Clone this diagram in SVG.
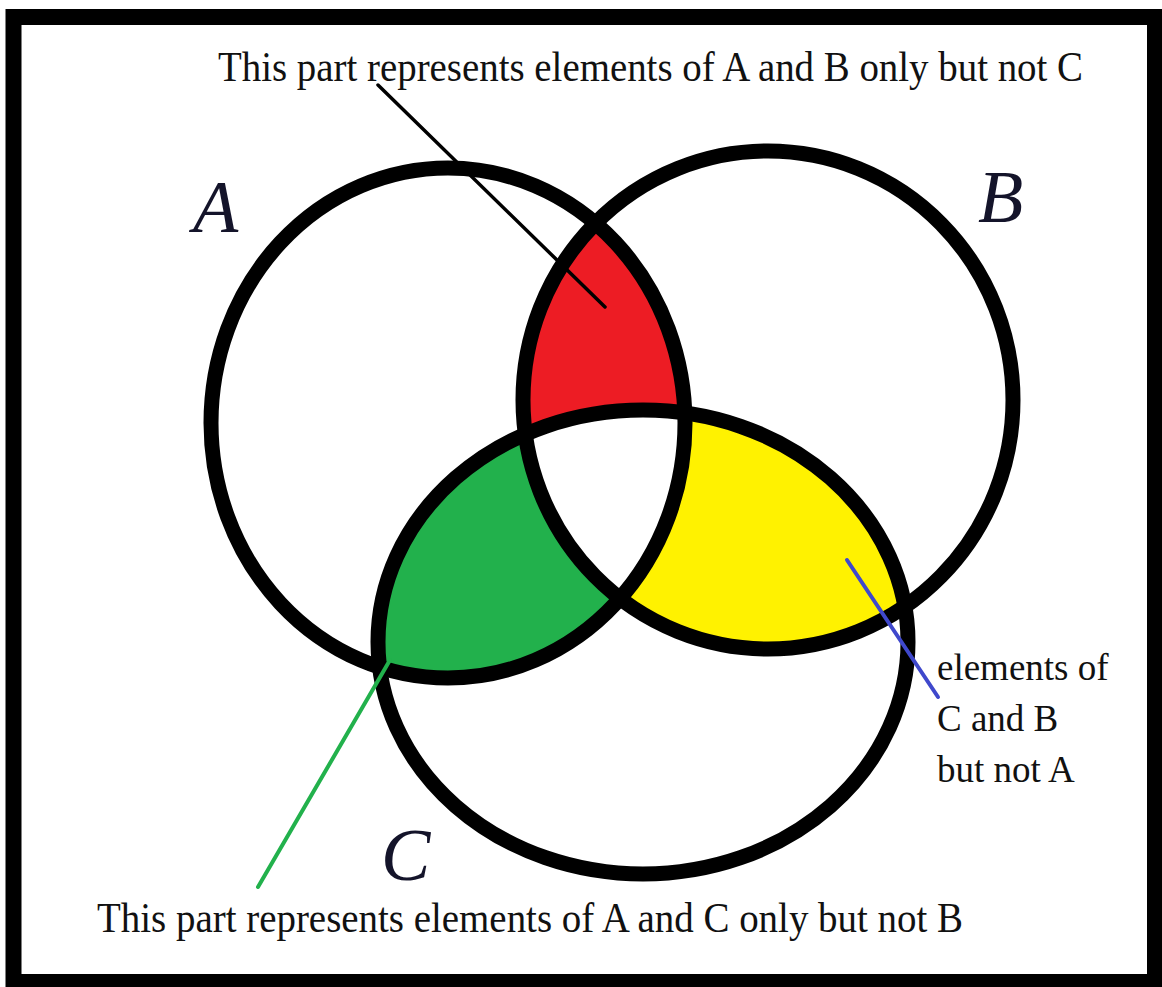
<svg xmlns="http://www.w3.org/2000/svg" width="1162" height="987" viewBox="0 0 1162 987">
  <style>
    .ring { fill: none; stroke: #000; stroke-width: 15; }
    .lbl { font-family: "Liberation Serif", "Times New Roman", serif; fill: #111; }
    .big { font-family: "Liberation Serif", "Times New Roman", serif; font-style: italic; font-size: 74px; fill: #14142a; }
  </style>
  <defs>
    <clipPath id="clipA"><ellipse cx="448" cy="423" rx="237" ry="255"/></clipPath>
    <clipPath id="clipB"><ellipse cx="768" cy="400" rx="245" ry="249"/></clipPath>
    <clipPath id="clipC"><ellipse cx="643" cy="642" rx="265" ry="232"/></clipPath>
  </defs>
  <rect x="0" y="0" width="1162" height="987" fill="#fff"/>
  <rect id="frame" x="13.5" y="17" width="1141.5" height="965" fill="none" stroke="#000" stroke-width="16"/>

  <g id="regions">
    <g clip-path="url(#clipA)"><ellipse cx="768" cy="400" rx="245" ry="249" fill="#ED1C24"/></g>
    <g clip-path="url(#clipA)"><ellipse cx="643" cy="642" rx="265" ry="232" fill="#22B14C"/></g>
    <g clip-path="url(#clipB)"><ellipse cx="643" cy="642" rx="265" ry="232" fill="#FFF200"/></g>
    <g clip-path="url(#clipA)"><g clip-path="url(#clipB)"><ellipse cx="643" cy="642" rx="265" ry="232" fill="#fff"/></g></g>
  </g>

  <g id="circleA"><ellipse class="ring" cx="448" cy="423" rx="237" ry="255"/></g>
  <g id="circleB"><ellipse class="ring" cx="768" cy="400" rx="245" ry="249"/></g>
  <g id="circleC"><ellipse class="ring" cx="643" cy="642" rx="265" ry="232"/></g>

  <g id="connectors" fill="none" stroke-linecap="round">
    <line x1="378" y1="85" x2="605" y2="307" stroke="#000" stroke-width="3.5"/>
    <line x1="390" y1="660" x2="258" y2="887" stroke="#22B14C" stroke-width="4"/>
    <line x1="847" y1="560" x2="938" y2="697" stroke="#3F48CC" stroke-width="4"/>
  </g>

  <g id="labelA"><text class="big" x="193" y="232">A</text></g>
  <g id="labelB"><text class="big" x="978" y="222">B</text></g>
  <g id="labelC"><text class="big" x="381" y="880">C</text></g>

  <g id="noteAB"><text class="lbl" x="218" y="81" font-size="42" textLength="865" lengthAdjust="spacingAndGlyphs">This part represents elements of A and B only but not C</text></g>
  <g id="noteAC"><text class="lbl" x="97" y="932" font-size="42" textLength="866" lengthAdjust="spacingAndGlyphs">This part represents elements of A and C only but not B</text></g>
  <g id="noteCB">
    <text class="lbl" font-size="37">
      <tspan x="937" y="680">elements of</tspan>
      <tspan x="937" y="731">C and B</tspan>
      <tspan x="937" y="782">but not A</tspan>
    </text>
  </g>
</svg>
